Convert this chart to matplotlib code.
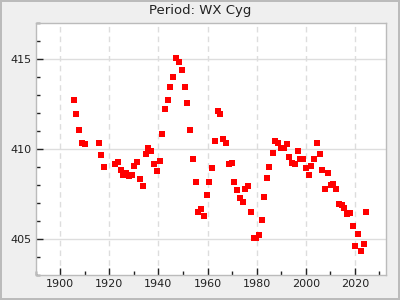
import numpy as np
import matplotlib
matplotlib.use('Agg')
import matplotlib.pyplot as plt
from matplotlib.ticker import MultipleLocator

# O-C style period data for WX Cyg
years = [
    1905.7, 1906.5, 1907.7, 1909.0, 1910.2, 1915.9, 1916.7, 1917.9, 1922.4, 1923.6,
    1924.8, 1925.6, 1926.9, 1928.1, 1929.3, 1930.1, 1931.3, 1932.5, 1933.8, 1935.0,
    1935.8, 1937.0, 1938.2, 1939.5, 1940.7, 1941.5, 1942.7, 1943.9, 1944.8, 1946.0,
    1947.2, 1948.4, 1949.6, 1950.9, 1951.7, 1952.9, 1954.1, 1955.3, 1956.1, 1957.4,
    1958.6, 1959.8, 1960.6, 1961.8, 1963.1, 1964.3, 1965.1, 1966.3, 1967.5, 1968.8,
    1970.0, 1970.8, 1972.0, 1973.2, 1974.5, 1975.3, 1976.5, 1977.7, 1978.9, 1979.7,
    1981.0, 1982.2, 1983.0, 1984.2, 1985.0, 1986.7, 1987.5, 1988.7, 1989.9, 1991.1,
    1992.4, 1993.2, 1994.4, 1995.6, 1996.8, 1997.6, 1998.9, 2000.1, 2001.3, 2002.1,
    2003.3, 2004.6, 2005.8, 2006.6, 2007.8, 2009.0, 2010.3, 2011.1, 2012.3, 2013.5,
    2014.7, 2015.5, 2016.8, 2018.0, 2019.2, 2020.0, 2021.2, 2022.5, 2023.7, 2024.5,
]
period = [
    412.71, 411.98, 411.09, 410.32, 410.26, 410.37, 409.65, 408.98, 409.15, 409.26,
    408.82, 408.59, 408.65, 408.48, 408.59, 409.04, 409.26, 408.32, 407.93, 409.71,
    410.09, 409.87, 409.15, 408.76, 409.32, 410.87, 412.21, 412.71, 413.48, 414.04,
    415.09, 414.87, 414.43, 413.43, 412.54, 411.09, 409.48, 408.15, 406.48, 406.65,
    406.26, 407.43, 408.15, 408.93, 410.48, 412.15, 411.98, 410.59, 410.32, 409.15,
    409.21, 408.15, 407.71, 407.26, 407.04, 407.76, 407.93, 406.48, 405.04, 405.04,
    405.21, 406.04, 407.32, 408.37, 408.98, 409.76, 410.48, 410.32, 410.09, 410.09,
    410.26, 409.54, 409.21, 409.15, 409.87, 409.43, 409.48, 408.93, 408.54, 409.09,
    409.48, 410.32, 409.71, 408.82, 407.76, 408.65, 407.98, 408.04, 407.76, 406.93,
    406.87, 406.71, 406.37, 406.43, 405.71, 404.59, 405.26, 404.32, 404.71, 406.48,
]

fig = plt.figure(figsize=(4, 3), dpi=100, facecolor='#efefef',
                 edgecolor='#bbbbbb', linewidth=1.5)
ax = fig.add_axes([0.089, 0.0833, 0.875, 0.839])
ax.set_facecolor('white')

ax.plot(years, period, 's', color='#ff0000', markersize=3.7,
        markeredgewidth=0, zorder=3)

ax.set_xlim(1890, 2032.5)
ax.set_ylim(403, 417)
ax.xaxis.set_major_locator(MultipleLocator(20))
ax.xaxis.set_minor_locator(MultipleLocator(10))
ax.yaxis.set_major_locator(MultipleLocator(5))
ax.yaxis.set_minor_locator(MultipleLocator(1))

ax.grid(True, axis='x', which='major', color='#dddddd', linestyle=(0, (4, 3)), linewidth=1.0)
ax.grid(True, axis='y', which='major', color='#dddddd', linestyle='-', linewidth=1.0)
ax.set_axisbelow(True)

ax.tick_params(which='major', direction='in', length=5, width=1, color='#222222',
               labelsize=8, labelcolor='#222222', pad=3)
ax.tick_params(which='minor', direction='in', length=3, width=1, color='#222222')

for sp in ax.spines.values():
    sp.set_color('#bbbbbb')
    sp.set_linewidth(1.0)

fig.text(0.5, 0.965, 'Period: WX Cyg', ha='center', va='center',
         fontsize=9.5, color='#222222')

fig.savefig('out.png', dpi=100, facecolor=fig.get_facecolor(),
            edgecolor=fig.get_edgecolor())
